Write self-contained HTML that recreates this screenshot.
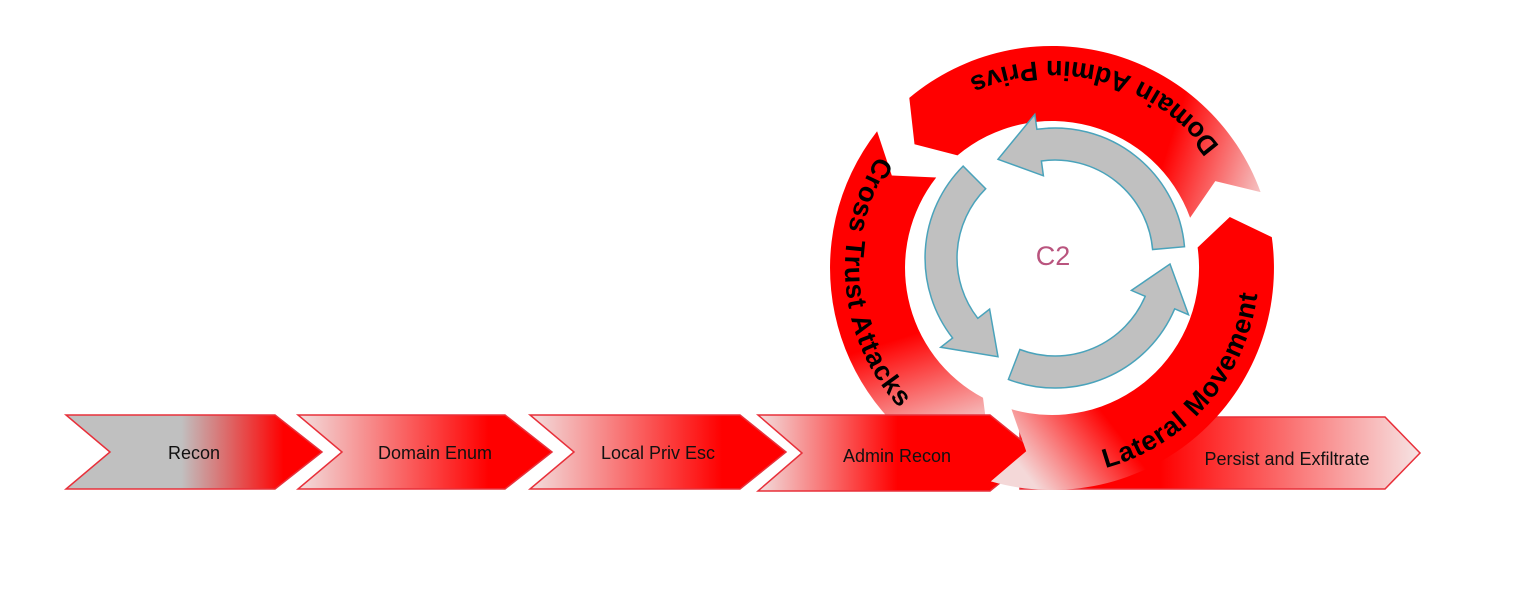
<!DOCTYPE html>
<html><head><meta charset="utf-8"><style>
html,body{margin:0;padding:0;background:#fff;}
svg{display:block;font-family:"Liberation Sans",Arial,sans-serif;}
</style></head><body>
<svg width="1538" height="597" viewBox="0 0 1538 597">
<defs>
<linearGradient id="gRecon" x1="0" y1="0" x2="1" y2="0"><stop offset="0" stop-color="#c0c0c0"/><stop offset="0.45" stop-color="#c0c0c0"/><stop offset="0.85" stop-color="#ff0000"/><stop offset="1" stop-color="#ff0000"/></linearGradient>
<linearGradient id="gMid" x1="0" y1="0" x2="1" y2="0"><stop offset="0" stop-color="#f2dede"/><stop offset="0.75" stop-color="#ff0000"/><stop offset="1" stop-color="#ff0000"/></linearGradient>
<linearGradient id="gAdm" x1="0" y1="0" x2="1" y2="0"><stop offset="0" stop-color="#f2dede"/><stop offset="0.5" stop-color="#ff0000"/><stop offset="1" stop-color="#ff0000"/></linearGradient>
<linearGradient id="gPer" x1="0" y1="0" x2="1" y2="0"><stop offset="0" stop-color="#ff0000"/><stop offset="0.35" stop-color="#ff0000"/><stop offset="1" stop-color="#f6e4e4"/></linearGradient>
<linearGradient id="gA" gradientUnits="userSpaceOnUse" x1="920" y1="90" x2="1265" y2="200"><stop offset="0" stop-color="#ff0000"/><stop offset="0.7" stop-color="#ff0000"/><stop offset="1" stop-color="#f4d0d0"/></linearGradient>
<linearGradient id="gB" gradientUnits="userSpaceOnUse" x1="880" y1="130" x2="975" y2="430"><stop offset="0" stop-color="#ff0000"/><stop offset="0.65" stop-color="#ff0000"/><stop offset="1" stop-color="#f4d0d0"/></linearGradient>
<linearGradient id="gC" gradientUnits="userSpaceOnUse" x1="1000" y1="440" x2="1260" y2="240"><stop offset="0" stop-color="#f4d8d8"/><stop offset="0.3" stop-color="#ff0000"/><stop offset="1" stop-color="#ff0000"/></linearGradient>
<path id="tA" d="M1246.5,197.2 A207,207 0 0 0 918.9,109.4"/>
<path id="tB" d="M905.6,121.6 A207,207 0 0 0 933.3,437.6"/>
<path id="tC" d="M1052,475 A207,207 0 0 0 1257,239.2"/>
</defs>

<g stroke="#e8303a" stroke-width="1.5">
<polygon points="66,415 275,415 322,452 275,489 66,489 110,452" fill="url(#gRecon)"/>
<polygon points="298,415 505,415 552,452 505,489 298,489 342,452" fill="url(#gMid)"/>
<polygon points="530,415 740,415 786,452 740,489 530,489 574,452" fill="url(#gMid)"/>
<polygon points="1020,417 1385,417 1420,453 1385,489 1020,489" fill="url(#gPer)"/>
</g>

<path d="M909.3,97.9 A222,222 0 0 1 1260.6,192.1 L1215.3,181.1 L1190.1,217.7 A147,147 0 0 0 957.5,155.4 L914.5,144.2 Z" fill="url(#gA)"/>
<path d="M947.8,464 A222,222 0 0 1 877.1,131.3 L891.8,175.5 L936.2,177.5 A147,147 0 0 0 983,397.8 L988.7,441.8 Z" fill="url(#gB)"/>

<polygon points="758,415 990,415 1037,453 990,491 758,491 802,453" fill="url(#gAdm)" stroke="#e8303a" stroke-width="1.5"/>

<path d="M1271.8,237.1 A222,222 0 0 1 990.8,481.4 L1026.2,451.2 L1011.5,409.3 A147,147 0 0 0 1197.6,247.5 L1229.8,217 Z" fill="url(#gC)"/>

<g fill="#c0c0c0" stroke="#4aa3bb" stroke-width="1.5">
<path d="M1184.5,246.7 A130,130 0 0 0 1036.9,129.3 L1034.8,114.4 L998,159.3 L1043.4,175.8 L1041.4,161 A98,98 0 0 1 1152.6,249.5 Z"/>
<path d="M963.1,166.1 A130,130 0 0 0 952.6,338 L940.7,347.3 L998,356.7 L989.6,309.1 L977.8,318.3 A98,98 0 0 1 985.7,188.7 Z"/>
<path d="M1008.4,379.4 A130,130 0 0 0 1174.7,308.8 L1188.5,314.7 L1170,264 L1131.4,290.4 L1145.2,296.3 A98,98 0 0 1 1019.9,349.5 Z"/>
</g>

<g font-size="18" fill="#111" text-anchor="middle">
<text x="194" y="459">Recon</text>
<text x="435" y="459">Domain Enum</text>
<text x="658" y="459">Local Priv Esc</text>
<text x="897" y="462">Admin Recon</text>
<text x="1287" y="465">Persist and Exfiltrate</text>
</g>
<text x="1053" y="265" font-size="27" fill="#b9547e" text-anchor="middle">C2</text>

<g font-size="27" font-weight="bold" fill="#000" letter-spacing="1">
<text><textPath href="#tA" startOffset="50%" text-anchor="middle">Domain Admin Privs</textPath></text>
<text><textPath href="#tB" startOffset="50%" text-anchor="middle">Cross Trust Attacks</textPath></text>
<text><textPath href="#tC" startOffset="50%" text-anchor="middle">Lateral Movement</textPath></text>
</g>
</svg>
</body></html>
